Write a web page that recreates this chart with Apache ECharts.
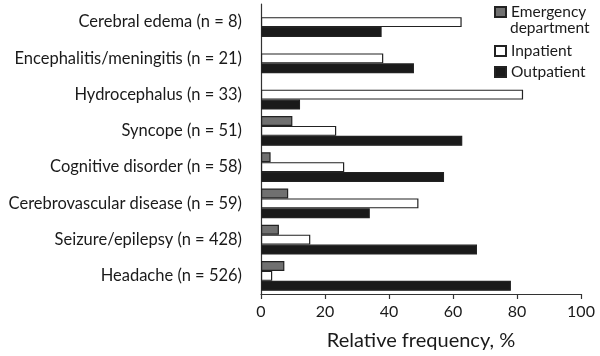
<!DOCTYPE html>
<html><head><meta charset="utf-8">
<script src="https://cdn.jsdelivr.net/npm/echarts@6/dist/echarts.min.js"></script>
<style>html,body{margin:0;padding:0;background:#fff}#c{width:600px;height:356px}</style>
</head><body><div id="c"></div>
<script>
const categories = ['Cerebral edema (n = 8)','Encephalitis/meningitis (n = 21)','Hydrocephalus (n = 33)','Syncope (n = 51)','Cognitive disorder (n = 58)','Cerebrovascular disease (n = 59)','Seizure/epilepsy (n = 428)','Headache (n = 526)'];
const emergency = [0, 0, 0, 9.8, 3.0, 8.5, 5.6, 7.3];
const inpatient = [62.7, 38.2, 81.9, 23.5, 26.0, 49.2, 15.4, 3.5];
const outpatient = [37.7, 47.8, 12.2, 62.9, 57.2, 34.0, 67.5, 78.1];
const xTicks = [0, 20, 40, 60, 80, 100];
const seriesNames = ['Emergency department', 'Inpatient', 'Outpatient'];

const font = 'Lato';
const txt = '#1a1a1a';
const chart = echarts.init(document.getElementById('c'), null, {renderer:'canvas'});
const barStyle = (c) => ({color:c, borderColor:'#222', borderWidth:1.2});
const noZero = (arr) => arr.map(v => v === 0 ? null : v);
const legendBase = {
  orient:'vertical', left:494, padding:0, itemWidth:11, itemHeight:10, itemGap:4,
  icon:'rect',
  textStyle:{fontFamily:font, fontSize:15.5, color:txt, lineHeight:17}
};
chart.setOption({
  animation:false,
  textStyle:{fontFamily:font},
  grid:{left:261, right:19, top:4, bottom:58, containLabel:false},
  legend:[
    Object.assign({}, legendBase, {top:3.5, data:[seriesNames[0]],
      formatter:(n)=> n.split(' ')[0]}),
    Object.assign({}, legendBase, {top:42.5, data:[seriesNames[1], seriesNames[2]]})
  ],
  graphic:[{
    type:'text', left:510, top:19.5,
    style:{text:seriesNames[0].split(' ')[1], font:'15.5px Lato', fill:txt}
  }],
  xAxis:{
    type:'value', min:0, max:100, interval:20,
    name:'Relative frequency, %', nameLocation:'middle', nameGap:37,
    nameTextStyle:{fontFamily:font, fontSize:20, color:txt},
    axisLine:{show:true, lineStyle:{color:'#333', width:1.2}},
    axisTick:{show:true, length:5, lineStyle:{color:'#333', width:1.2}},
    axisLabel:{fontFamily:font, fontSize:16, color:txt, margin:10,
      formatter:(v)=> xTicks.includes(v) ? String(v) : ''},
    splitLine:{show:false}
  },
  yAxis:{
    type:'category', data:categories, inverse:true,
    axisLine:{show:true, lineStyle:{color:'#333', width:1.2}},
    axisTick:{show:false},
    axisLabel:{fontFamily:font, fontSize:16.5, color:txt, margin:19}
  },
  series:[
    {name:seriesNames[0], type:'bar', data:noZero(emergency), itemStyle:barStyle('#707070'), barGap:'0%', barCategoryGap:'18%'},
    {name:seriesNames[1], type:'bar', data:inpatient, itemStyle:barStyle('#ffffff'), barGap:'0%', barCategoryGap:'18%'},
    {name:seriesNames[2], type:'bar', data:outpatient, itemStyle:barStyle('#1a1a1a'), barGap:'0%', barCategoryGap:'18%'}
  ]
});
</script></body></html>
